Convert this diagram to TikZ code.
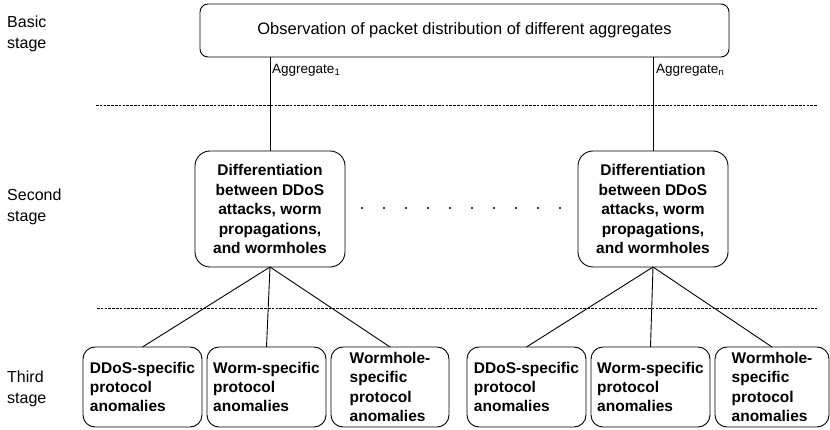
\documentclass[tikz,border=0pt]{standalone}
\usepackage{fontspec}
\setmainfont{Liberation Sans}
\usepackage{tikz}
\usetikzlibrary{positioning, calc}

\begin{document}
\begin{tikzpicture}[
    x=1pt, y=-1pt,
    node distance=5pt,
    box/.style={rectangle, draw, line width=0.9pt, outer sep=0pt, inner sep=2pt},
    topbox/.style={box, rounded corners=8pt, minimum width=529pt, minimum height=53pt, font=\fontsize{16.5}{20}\selectfont},
    diffbox/.style={box, rounded corners=15pt, minimum width=150pt, minimum height=116pt, align=center, font=\fontsize{15.5}{19.5}\selectfont\bfseries},
    anombox/.style={box, rounded corners=12pt, minimum width=119pt, minimum height=80pt, align=left, font=\fontsize{15.5}{19.2}\selectfont\bfseries},
    stagelabel/.style={anchor=west, align=left, inner sep=2pt, font=\fontsize{16}{21}\selectfont},
    agglabel/.style={anchor=west, inner sep=2pt, font=\fontsize{13.5}{16}\selectfont},
    conn/.style={line width=0.9pt},
    sep/.style={line width=0.8pt, dash pattern=on 2.6pt off 1.2pt}
]
\useasboundingbox (0,0) rectangle (830,430);

% ========== STAGES ==========
\node[stagelabel] (basic) at (5,34) {Basic\\stage};
\node[stagelabel] (second) at (5,207) {Second\\stage};
\node[stagelabel] (third) at (5,389) {Third\\stage};

% ========== BASIC STAGE ==========
\node[topbox] (observ) at (464.5,30.5) {Observation of packet distribution of different aggregates};

% ========== SECOND STAGE ==========
\node[diffbox] (diffL) at (270,209) {Differentiation\\between DDoS\\attacks, worm\\propagations,\\and wormholes};
\node[diffbox] (diffR) at (653,209) {Differentiation\\between DDoS\\attacks, worm\\propagations,\\and wormholes};

% puntos entre las dos ramas
\foreach \i in {0,...,9}
    \fill (362+22*\i,208) circle (1.1pt);

% ========== THIRD STAGE ==========
\node[anombox] (ddosL) at (142.5,387) {DDoS-specific\\protocol\\anomalies};
\node[anombox, right=of ddosL] (wormL) {Worm-specific\\protocol\\anomalies};
\node[anombox, right=of wormL, minimum width=118pt] (holeL) {Wormhole-\\specific\\protocol\\anomalies};

\node[anombox] (ddosR) at (526.5,387) {DDoS-specific\\protocol\\anomalies};
\node[anombox, right=of ddosR] (wormR) {Worm-specific\\protocol\\anomalies};
\node[anombox, right=of wormR, minimum width=114pt] (holeR) {Wormhole-\\specific\\protocol\\anomalies};

% Separadores
\coordinate (sepA1) at (96,105);
\coordinate (sepA2) at (817,105);
\coordinate (sepB1) at (97,308);
\coordinate (sepB2) at (817,308);
\draw[sep] (sepA1) -- (sepA2);
\draw[sep] (sepB1) -- (sepB2);

% Aggregates
\draw[conn] (observ.south -| diffL.north) -- (diffL.north);
\draw[conn] (observ.south -| diffR.north) -- (diffR.north);
\node[agglabel] (aggL) at (270,70) {Aggregate\textsubscript{1}};
\node[agglabel] (aggR) at (654,70) {Aggregate\textsubscript{n}};

% Ramas hacia la tercera etapa
\foreach \s in {ddos, worm, hole} {
    \draw[conn] (diffL.south) -- (\s L.north);
    \draw[conn] (diffR.south) -- (\s R.north);
}

\end{tikzpicture}
\end{document}
